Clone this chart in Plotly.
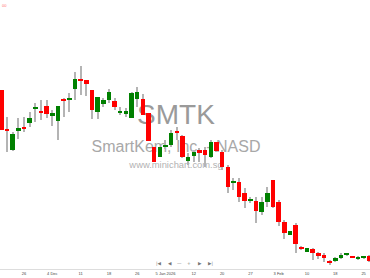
import plotly.graph_objects as go

dates = [
    "2025-11-20", "2025-11-21", "2025-11-24", "2025-11-25", "2025-11-26", "2025-11-28",
    "2025-12-01", "2025-12-02", "2025-12-03", "2025-12-04", "2025-12-05",
    "2025-12-08", "2025-12-09", "2025-12-10", "2025-12-11", "2025-12-12",
    "2025-12-15", "2025-12-16", "2025-12-17", "2025-12-18", "2025-12-19",
    "2025-12-22", "2025-12-23", "2025-12-24", "2025-12-26",
    "2025-12-29", "2025-12-30", "2025-12-31", "2026-01-02",
    "2026-01-05", "2026-01-06", "2026-01-07", "2026-01-08", "2026-01-09",
    "2026-01-12", "2026-01-13", "2026-01-14", "2026-01-15", "2026-01-16",
    "2026-01-20", "2026-01-21", "2026-01-22", "2026-01-23",
    "2026-01-26", "2026-01-27", "2026-01-28", "2026-01-29", "2026-01-30",
    "2026-02-02", "2026-02-03", "2026-02-04", "2026-02-05", "2026-02-06",
    "2026-02-09", "2026-02-10", "2026-02-11", "2026-02-12", "2026-02-13",
    "2026-02-17", "2026-02-18", "2026-02-19", "2026-02-20",
    "2026-02-23", "2026-02-24", "2026-02-25", "2026-02-26",
]

open_ = [1.90, 1.51, 1.30, 1.49, 1.53, 1.57, 1.715, 1.69, 1.74, 1.64, 1.59,
         1.81, 1.80, 1.91, 2.01, 2.00, 1.90, 1.68, 1.76, 1.80, 1.79,
         1.675, 1.66, 1.62, 1.81, 1.81, 1.67, 1.33, 1.23,
         1.335, 1.35, 1.49, 1.44, 1.19, 1.24, 1.30, 1.30, 1.23, 1.38,
         1.28, 1.13, 0.975, 0.98, 0.87, 0.79, 0.79, 0.68, 0.78,
         1.00, 0.78, 0.58, 0.45, 0.55, 0.33, 0.28, 0.31, 0.27, 0.25,
         0.19, 0.19, 0.22, 0.25, 0.235, 0.21, 0.225, 0.24]
high = [1.90, 1.63, 1.48, 1.62, 1.63, 1.68, 1.77, 1.80, 1.80, 1.70, 1.74,
        1.82, 1.87, 2.08, 2.14, 2.00, 1.90, 1.83, 1.82, 1.91, 1.82,
        1.73, 1.72, 1.88, 1.93, 1.86, 1.67, 1.33, 1.33,
        1.40, 1.50, 1.53, 1.45, 1.27, 1.30, 1.32, 1.33, 1.40, 1.38,
        1.30, 1.15, 1.02, 1.02, 0.92, 0.83, 0.83, 0.83, 0.93,
        1.00, 0.80, 0.60, 0.49, 0.57, 0.34, 0.32, 0.32, 0.28, 0.27,
        0.20, 0.23, 0.27, 0.27, 0.24, 0.24, 0.24, 0.25]
low = [1.50, 1.28, 1.29, 1.41, 1.48, 1.53, 1.58, 1.60, 1.62, 1.54, 1.40,
       1.63, 1.68, 1.80, 1.85, 1.84, 1.61, 1.61, 1.73, 1.77, 1.70,
       1.65, 1.63, 1.62, 1.73, 1.65, 1.39, 1.18, 1.23,
       1.31, 1.33, 1.40, 1.22, 1.15, 1.18, 1.18, 1.13, 1.22, 1.28,
       1.10, 0.87, 0.90, 0.78, 0.72, 0.77, 0.57, 0.65, 0.73,
       0.72, 0.54, 0.41, 0.45, 0.27, 0.30, 0.28, 0.20, 0.21, 0.18,
       0.15, 0.18, 0.21, 0.24, 0.22, 0.20, 0.21, 0.18]
close = [1.50, 1.49, 1.46, 1.52, 1.515, 1.62, 1.72, 1.67, 1.66, 1.67, 1.74,
         1.79, 1.81, 2.01, 1.995, 1.96, 1.70, 1.83, 1.80, 1.88, 1.73,
         1.68, 1.69, 1.87, 1.88, 1.65, 1.39, 1.18, 1.33,
         1.35, 1.47, 1.47, 1.23, 1.23, 1.28, 1.27, 1.25, 1.38, 1.29,
         1.13, 0.93, 0.98, 0.83, 0.79, 0.80, 0.69, 0.78, 0.87,
         0.73, 0.58, 0.47, 0.49, 0.36, 0.315, 0.32, 0.27, 0.24, 0.22,
         0.17, 0.22, 0.25, 0.26, 0.225, 0.23, 0.23, 0.19]

tick_dates = ["2025-11-26", "2025-12-04", "2025-12-11", "2025-12-18", "2025-12-26",
              "2026-01-05", "2026-01-12", "2026-01-20", "2026-01-27", "2026-02-03",
              "2026-02-10", "2026-02-18", "2026-02-25"]
tick_labels = ["26", "4 Dec", "11", "18", "26", "5 Jan 2026", "12", "20", "27",
               "3 Feb", "10", "18", "25"]

symbol = "SMTK"
company = "SmartKem, Inc. - NASD"
site = "www.minichart.com.sg"

UP = "#008000"
DOWN = "#ff0000"
WICK = "#b4b4b4"
FONT = "Liberation Sans, Arial, sans-serif"

W, H = 370, 278
MB = 9
PH = H - MB

body_base = [min(o, c) for o, c in zip(open_, close)]
body_h = [max(abs(c - o), 0.012) for o, c in zip(open_, close)]
body_col = [UP if c >= o else DOWN for o, c in zip(open_, close)]
wick_h = [h - l for h, l in zip(high, low)]

fig = go.Figure()

# watermark on base (hidden) axes so that candles draw above it
fig.add_trace(go.Scatter(
    x=[176 / W, 176 / W, 176 / W],
    y=[1 - 117 / PH, 1 - 148 / PH, 1 - 165.5 / PH],
    mode="text",
    text=[symbol, company, site],
    textfont=dict(family=FONT, size=[28, 16, 9.4],
                  color=["#9a9a9a", "#a8a8a8", "#b2b2b2"]),
    textposition="middle center",
    hoverinfo="skip", showlegend=False,
    xaxis="x", yaxis="y",
))

fig.add_trace(go.Bar(
    x=dates, y=wick_h, base=low, width=0.18,
    marker=dict(color=WICK, line=dict(width=0)),
    hoverinfo="skip", showlegend=False, xaxis="x2", yaxis="y2",
))
fig.add_trace(go.Bar(
    x=dates, y=body_h, base=body_base, width=0.8,
    marker=dict(color=body_col, line=dict(width=0)),
    hoverinfo="skip", showlegend=False, xaxis="x2", yaxis="y2",
))

n = len(dates)
step = 5.66
r0 = -1.36 / step
r1 = r0 + W / step

annotations = [
    dict(text="00", x=0, y=1 - 5.5 / PH, xref="paper", yref="paper",
         xanchor="left", yanchor="middle", showarrow=False,
         font=dict(family=FONT, size=4, color="#ff7070")),
]
nav = [("|◀", 159), ("◀", 169.5), ("—", 179), ("+", 189), ("▶", 199.5), ("▶|", 210)]
for t, px in nav:
    annotations.append(dict(text=t, x=px / W, y=1 - 263.5 / PH, xref="paper", yref="paper",
                            xanchor="center", yanchor="middle", showarrow=False,
                            font=dict(family="DejaVu Sans", size=4.5, color="#777777")))

fig.update_layout(
    width=W, height=H,
    margin=dict(l=0, r=0, t=0, b=MB),
    paper_bgcolor="white", plot_bgcolor="white",
    barmode="overlay", bargap=0,
    showlegend=False,
    xaxis=dict(range=[0, 1], visible=False, fixedrange=True),
    yaxis=dict(range=[0, 1], visible=False, fixedrange=True),
    xaxis2=dict(type="category", overlaying="x", anchor="y2", side="bottom",
                range=[r0, r1], tickmode="array", tickvals=tick_dates, ticktext=tick_labels,
                tickfont=dict(family=FONT, size=4, color="#444444"),
                ticks="", showgrid=False, zeroline=False,
                showline=True, linecolor="#dddddd", linewidth=1),
    yaxis2=dict(overlaying="y", anchor="x2", range=[0.11, 2.80], visible=False,
                showgrid=False, zeroline=False),
    annotations=annotations,
)

fig.write_html("out.html")
